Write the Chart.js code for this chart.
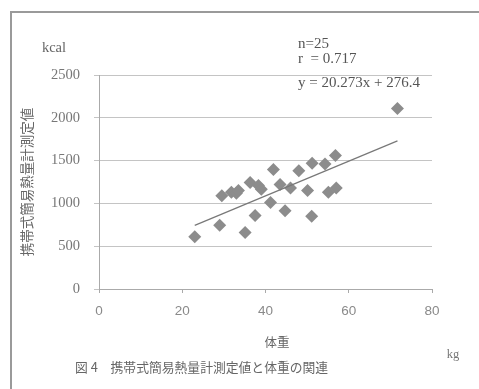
<!DOCTYPE html>
<html>
<head>
<meta charset="utf-8">
<script src="https://cdn.jsdelivr.net/npm/chart.js@4/dist/chart.umd.min.js"></script>
<style>
  html, body { margin: 0; padding: 0; background: #ffffff; }
  #wrap { width: 479px; height: 389px; position: relative; }
</style>
</head>
<body>
<div id="wrap"><canvas id="c" width="479" height="389"></canvas></div>
<script>
// Body weight (kg) of each subject
const weightKg = [23.0, 29.0, 29.5, 31.8, 33.0, 33.5, 35.1, 36.3, 37.5, 38.3, 39.0, 41.2, 41.9,
                  43.5, 44.7, 46.0, 48.0, 50.1, 51.1, 51.2, 54.3, 55.1, 56.8, 57.0, 71.7];
// Portable calorimeter reading (kcal) for the same subjects
const calorimeterKcal = [610, 745, 1090, 1130, 1120, 1150, 660, 1245, 860, 1210, 1165, 1010, 1395,
                         1220, 915, 1180, 1380, 1150, 850, 1470, 1460, 1130, 1560, 1180, 2110];
// Regression line stated on the chart
const slope = 20.273;
const intercept = 276.4;
const statLines = ['n=25', 'r  = 0.717', 'y = 20.273x + 276.4'];
const xTicks = [0, 20, 40, 60, 80];
const yTicks = [0, 500, 1000, 1500, 2000, 2500];

const points = weightKg.map((w, i) => ({ x: w, y: calorimeterKcal[i] }));
const xMin = Math.min(...weightKg), xMax = Math.max(...weightKg);
const fitLine = [xMin, xMax].map(x => ({ x: x, y: slope * x + intercept }));

const SERIF = "'Liberation Serif', 'DejaVu Serif', serif";
const SANS = "'Liberation Sans', Arial, sans-serif";
const CJK = "'Noto Sans CJK JP', 'Noto Sans', sans-serif";

// Frame, titles, units and the regression statistics
const decorations = {
  id: 'decorations',
  beforeDraw(chart) {
    const ctx = chart.ctx;
    ctx.save();
    ctx.fillStyle = '#ffffff';
    ctx.fillRect(0, 0, chart.width, chart.height);
    ctx.strokeStyle = '#9a9a9a';
    ctx.lineWidth = 2;
    ctx.beginPath();
    ctx.moveTo(11, chart.height);
    ctx.lineTo(11, 12);
    ctx.lineTo(chart.width, 12);
    ctx.stroke();
    ctx.restore();
  },
  afterDraw(chart) {
    const ctx = chart.ctx;
    ctx.save();
    ctx.textBaseline = 'middle';

    ctx.fillStyle = '#666666';
    ctx.font = '14.5px ' + SERIF;
    ctx.textAlign = 'center';
    ctx.fillText('kcal', 54, 48);

    ctx.fillStyle = '#555555';
    ctx.textAlign = 'left';
    ctx.font = '15px ' + SERIF;
    ctx.fillText(statLines[0], 298, 44);
    ctx.fillText(statLines[1], 298, 59);
    ctx.fillText(statLines[2], 298, 83);

    // vertical axis title
    ctx.save();
    ctx.translate(27, 182);
    ctx.rotate(-Math.PI / 2);
    ctx.textAlign = 'center';
    ctx.fillStyle = '#666666';
    ctx.font = '13.5px ' + CJK;
    ctx.fillText('携帯式簡易熱量計測定値', 0, 0);
    ctx.restore();

    ctx.textAlign = 'center';
    ctx.fillStyle = '#666666';
    ctx.font = '12.5px ' + CJK;
    ctx.fillText('体重', 277, 342);

    ctx.font = '12.5px ' + SERIF;
    ctx.fillStyle = '#777777';
    ctx.fillText('kg', 453, 355);

    ctx.textAlign = 'left';
    ctx.font = '12.8px ' + CJK;
    ctx.fillStyle = '#666666';
    ctx.fillText('図 4　携帯式簡易熱量計測定値と体重の関連', 75, 367);
    ctx.restore();
  }
};

new Chart(document.getElementById('c'), {
  type: 'scatter',
  data: {
    datasets: [
      {
        label: 'measured',
        data: points,
        pointStyle: 'rectRot',
        pointRadius: 6.5,
        pointHoverRadius: 6.5,
        backgroundColor: '#8c8c8c',
        borderWidth: 0,
        order: 2
      },
      {
        type: 'line',
        label: 'fit',
        data: fitLine,
        borderColor: '#787878',
        borderWidth: 1.2,
        pointRadius: 0,
        fill: false,
        order: 1
      }
    ]
  },
  options: {
    responsive: false,
    animation: false,
    devicePixelRatio: 1,
    layout: { padding: { left: 0, right: 47, top: 75, bottom: 0 } },
    plugins: { legend: { display: false }, tooltip: { enabled: false } },
    scales: {
      x: {
        type: 'linear',
        min: 0, max: 80,
        afterFit(scale) { scale.height = 100; },
        afterBuildTicks(scale) { scale.ticks = xTicks.map(v => ({ value: v })); },
        grid: { drawOnChartArea: false, drawTicks: true, tickLength: 4, color: '#aaaaaa' },
        border: { display: true, color: '#aaaaaa', width: 1 },
        ticks: { color: '#8a8a8a', font: { family: SANS, size: 13.5 }, padding: 10, maxRotation: 0,
                 callback: v => String(v) }
      },
      y: {
        type: 'linear',
        min: 0, max: 2500,
        afterFit(scale) { scale.width = 99; },
        afterBuildTicks(scale) { scale.ticks = yTicks.map(v => ({ value: v })); },
        grid: { color: '#c4c4c4', lineWidth: 1, tickLength: 5 },
        border: { display: true, color: '#aaaaaa', width: 1 },
        ticks: { color: '#777777', font: { family: SERIF, size: 14.5 }, padding: 14,
                 callback: v => String(v) }
      }
    }
  },
  plugins: [decorations]
});
</script>
</body>
</html>
